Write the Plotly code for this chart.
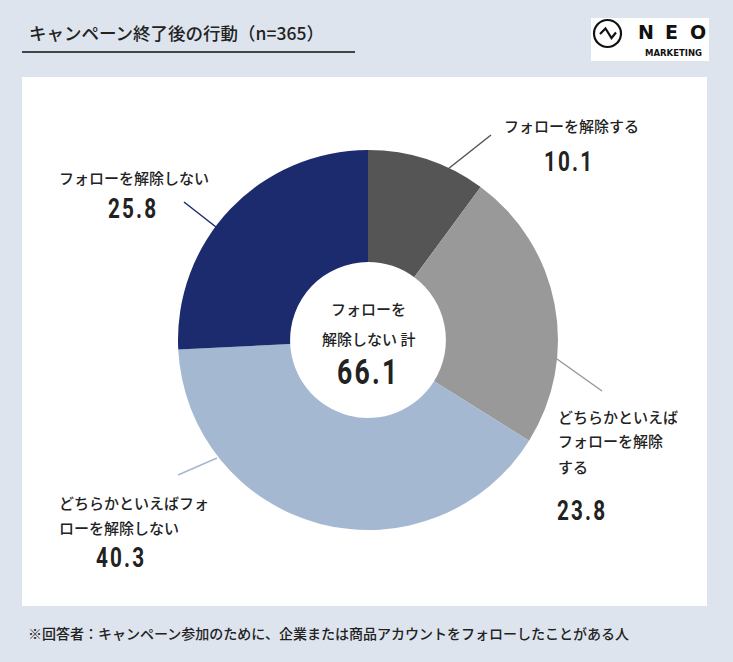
import plotly.graph_objects as go

# ---- data ----
categories = ["フォローを解除する", "どちらかといえばフォローを解除する",
              "どちらかといえばフォローを解除しない", "フォローを解除しない"]
values = [10.1, 23.8, 40.3, 25.8]
label_lines = [["フォローを解除する"],
               ["どちらかといえば", "フォローを解除", "する"],
               ["どちらかといえばフォ", "ローを解除しない"],
               ["フォローを解除しない"]]
colors = ["#555555", "#999999", "#a4b8d1", "#1c2a6e"]
title_text = "キャンペーン終了後の行動（n=365）"
note_text = "※回答者：キャンペーン参加のために、企業または商品アカウントをフォローしたことがある人"
center_lines = ["フォローを", "解除しない 計"]
total_idx = [2, 3]

W, H = 733, 662
def px(x): return x / W
def py(y): return 1 - y / H

JP = "Noto Sans CJK JP, Noto Sans, sans-serif"
NUM = "Roboto, DejaVu Sans, sans-serif"
TXT = "#222222"

cx, cy, R = 368, 340, 190

fig = go.Figure(go.Pie(
    values=values, labels=categories, sort=False, direction="clockwise",
    rotation=0, hole=0.41, textinfo="none", hoverinfo="label+value",
    marker=dict(colors=colors, line=dict(width=0)),
    domain=dict(x=[px(cx - R), px(cx + R)], y=[py(cy + R), py(cy - R)]),
    showlegend=False,
))

shapes = []
ann = []
# panel
shapes.append(dict(type="rect", xref="paper", yref="paper", x0=px(22), x1=px(707),
                   y0=py(606), y1=py(77), fillcolor="white", line=dict(width=0), layer="below"))
# title underline
shapes.append(dict(type="line", xref="paper", yref="paper", x0=px(22), x1=px(355),
                   y0=py(52), y1=py(52), line=dict(color="#444444", width=2)))
# logo box
shapes.append(dict(type="rect", xref="paper", yref="paper", x0=px(591), x1=px(709),
                   y0=py(61), y1=py(18), fillcolor="white", line=dict(width=0)))
shapes.append(dict(type="circle", xref="paper", yref="paper", x0=px(594), x1=px(621),
                   y0=py(47), y1=py(20), line=dict(color="#111111", width=2.2)))
zig = [(600, 34), (605.5, 28.5), (611.5, 38), (616, 32.5)]
path = "M " + " L ".join(f"{px(x)},{py(y)}" for x, y in zig)
shapes.append(dict(type="path", xref="paper", yref="paper", path=path,
                   line=dict(color="#111111", width=2.2)))
for letter, lx in zip("NEO", [646, 671, 698]):
    ann.append(dict(text=f"<b>{letter}</b>", x=px(lx), y=py(32), xref="paper", yref="paper",
                    showarrow=False, xanchor="center", yanchor="middle",
                    font=dict(family="DejaVu Sans", size=19, color="#111111")))
ann.append(dict(text="<b>MARKETING</b>", x=px(673), y=py(53.5), xref="paper", yref="paper",
                showarrow=False, xanchor="center", yanchor="middle",
                font=dict(family="DejaVu Sans", size=8.5, color="#111111")))

# leader lines (decorative)
leaders = [((448, 169), (491, 135)), ((557, 359), (602, 391)),
           ((217, 458), (178, 475)), ((216, 227), (184, 202))]
for (a, b), c in zip(leaders, colors):
    shapes.append(dict(type="line", xref="paper", yref="paper", x0=px(a[0]), y0=py(a[1]),
                       x1=px(b[0]), y1=py(b[1]), line=dict(color=c, width=1.5)))

# label layout: (left x, first line y), number center (x, y)
label_pos = [(502, 125), (556, 416), (57, 502), (57, 177)]
num_pos = [(569, 161), (582, 511), (121, 557), (133, 208)]
pitch = 25
for lines, (lx, ly), (nx, ny), v in zip(label_lines, label_pos, num_pos, values):
    for i, t in enumerate(lines):
        ann.append(dict(text=t, x=px(lx), y=py(ly + i * pitch), xref="paper", yref="paper",
                        showarrow=False, xanchor="left", yanchor="middle",
                        font=dict(family=JP, size=15, color=TXT, weight=500)))
    ann.append(dict(text=f"{v:.1f}", x=px(nx), y=py(ny), xref="paper", yref="paper",
                    showarrow=False, xanchor="center", yanchor="middle",
                    font=dict(family=NUM, size=28, color=TXT, weight=700)))

# center
for i, t in enumerate(center_lines):
    ann.append(dict(text=t, x=px(cx), y=py(308 + i * 30), xref="paper", yref="paper",
                    showarrow=False, xanchor="center", yanchor="middle",
                    font=dict(family=JP, size=15, color=TXT, weight=500)))
total = sum(values[i] for i in total_idx)
ann.append(dict(text=f"{total:.1f}", x=px(cx), y=py(372), xref="paper", yref="paper",
                showarrow=False, xanchor="center", yanchor="middle",
                font=dict(family=NUM, size=36, color=TXT, weight=700)))

# title & note
ann.append(dict(text=title_text, x=px(27), y=py(32), xref="paper", yref="paper",
                showarrow=False, xanchor="left", yanchor="middle",
                font=dict(family=JP, size=17.5, color=TXT, weight=500)))
ann.append(dict(text=note_text, x=px(26), y=py(633), xref="paper", yref="paper",
                showarrow=False, xanchor="left", yanchor="middle",
                font=dict(family=JP, size=14, color=TXT, weight=500)))

fig.update_layout(width=W, height=H, margin=dict(l=0, r=0, t=0, b=0),
                  paper_bgcolor="#dee4ee", plot_bgcolor="#dee4ee",
                  shapes=shapes, annotations=ann)

# condense the numeric labels horizontally (narrow display figures)
post = """
document.body.style.margin='0';
document.querySelectorAll('text.annotation-text').forEach(function(t){
  if (/^\\d+\\.\\d$/.test(t.textContent)) {
    t.style.letterSpacing = '3px';
    var b = t.getBBox(); var c = b.x + b.width/2;
    var old = t.getAttribute('transform') || '';
    t.setAttribute('transform', old + ' translate(' + c + ',0) scale(0.74,1) translate(' + (-c) + ',0)');
  }
});
"""
fig.write_html("out.html", config={"displayModeBar": False}, post_script=post)
